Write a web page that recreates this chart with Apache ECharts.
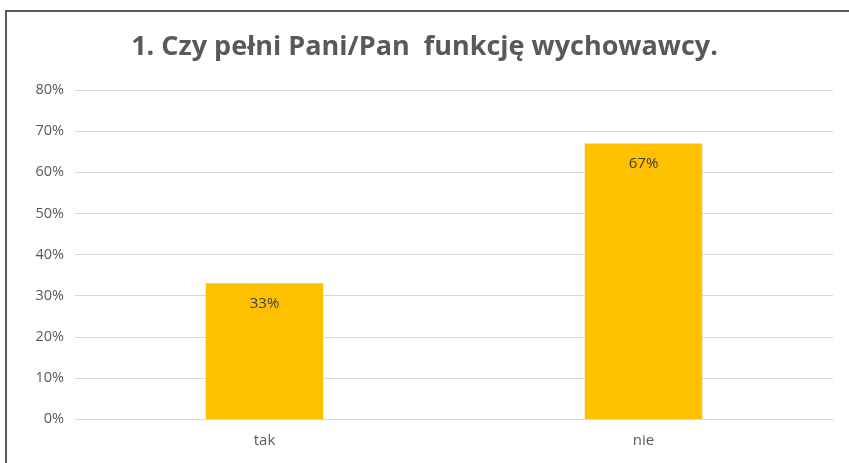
<!DOCTYPE html>
<html>
<head>
<meta charset="utf-8">
<script src="https://cdn.jsdelivr.net/npm/echarts@6/dist/echarts.min.js"></script>
<style>
html,body{margin:0;padding:0;background:#fff;}
#main{position:absolute;left:0;top:0;width:849px;height:463px;}
#frame{position:absolute;left:5px;top:10px;width:900px;height:500px;border-left:2px solid #5a5a5a;border-top:2px solid #5a5a5a;pointer-events:none;}
</style>
</head>
<body>
<div id="main"></div>
<div id="frame"></div>
<script>
const titleText = '1. Czy pełni Pani/Pan  funkcję wychowawcy.';
const categories = ['tak', 'nie'];
const values = [33, 67];
const yTicks = { min: 0, max: 80, interval: 10 };

const chart = echarts.init(document.getElementById('main'), null, { renderer: 'canvas' });
chart.setOption({
  animation: false,
  backgroundColor: '#ffffff',
  textStyle: { fontFamily: '"Open Sans", Lato, sans-serif' },
  title: {
    text: titleText,
    left: 'center',
    top: 29,
    textStyle: { fontSize: 27, fontWeight: 'bold', color: '#595959', fontFamily: '"Open Sans", Lato, sans-serif' }
  },
  grid: { left: 75, right: 16, top: 90, bottom: 44, containLabel: false },
  xAxis: {
    type: 'category',
    data: categories,
    axisLine: { lineStyle: { color: '#d9d9d9', width: 1 } },
    axisTick: { show: false },
    axisLabel: { color: '#595959', fontSize: 15, margin: 14 }
  },
  yAxis: {
    type: 'value',
    min: yTicks.min,
    max: yTicks.max,
    interval: yTicks.interval,
    axisLine: { show: false },
    axisTick: { show: false },
    splitLine: { lineStyle: { color: '#d9d9d9', width: 1 } },
    axisLabel: { color: '#595959', fontSize: 14.5, margin: 11, formatter: '{value}%' }
  },
  series: [{
    type: 'bar',
    data: values,
    barWidth: '31%',
    itemStyle: { color: '#FFC000' },
    label: {
      show: true,
      position: 'insideTop',
      distance: 13,
      color: '#404040',
      fontSize: 15,
      formatter: '{c}%'
    }
  }]
});
</script>
</body>
</html>
